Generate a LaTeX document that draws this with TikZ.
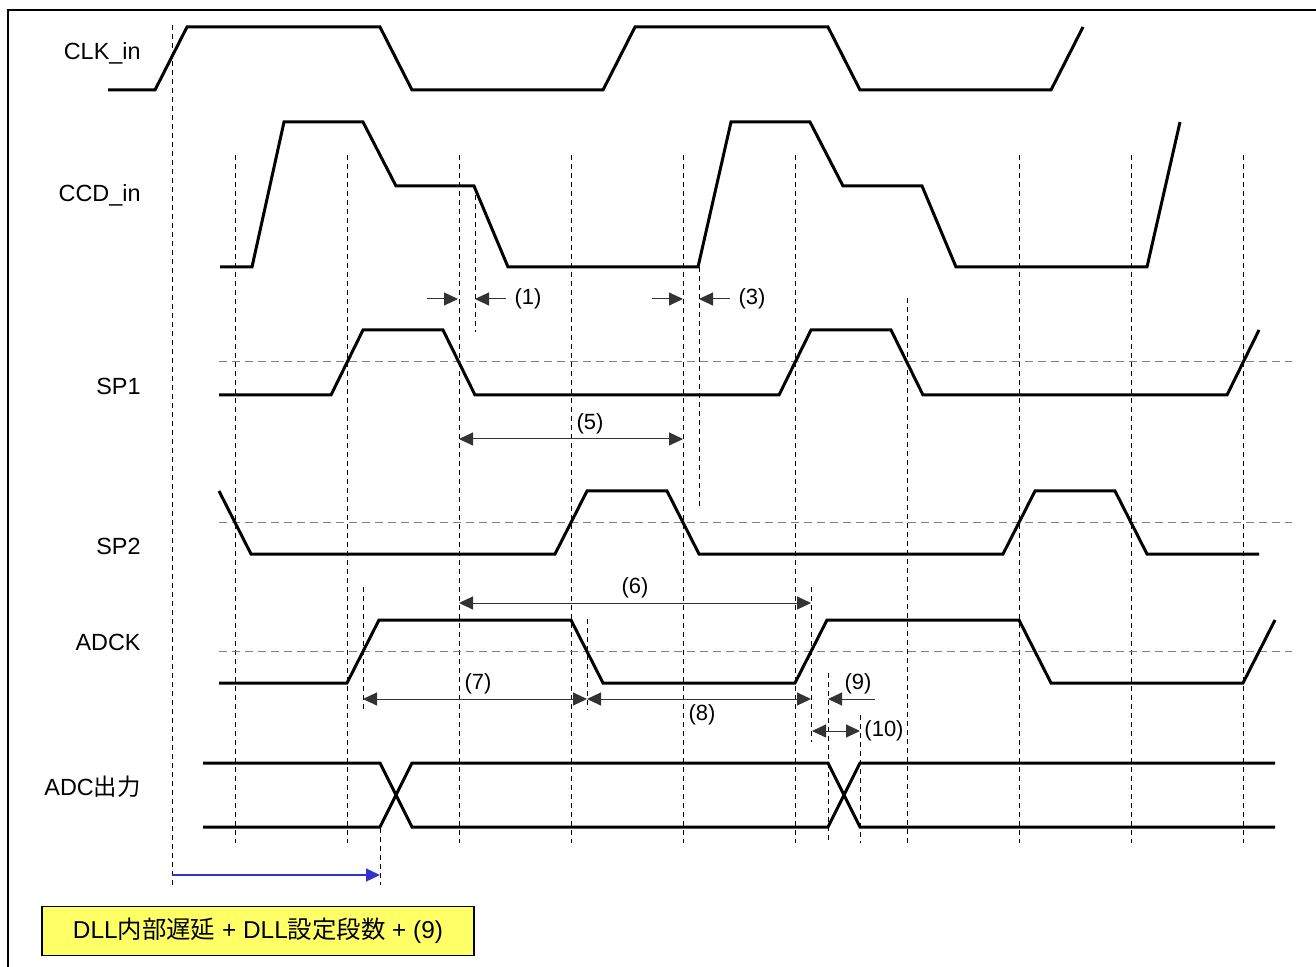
\documentclass[tikz,border=0pt]{standalone}
\usepackage{fontspec}
\setmainfont{Liberation Sans}
\newfontfamily\jpfont{Noto Sans CJK JP}
\usetikzlibrary{arrows.meta}

\definecolor{boxYellow}{RGB}{255,255,102}
\definecolor{dllBlue}{RGB}{51,51,204}
\newcommand{\jtext}[1]{{\jpfont #1}}

\tikzset{
    wave/.style={line width=1.5pt, line join=miter},
    grid/.style={line width=0.5pt, dash pattern=on 2.5pt off 2pt},
    thresh/.style={line width=0.5pt, gray, dash pattern=on 4pt off 2.5pt},
    dim/.style={line width=0.5pt, black!80, -{Triangle[length=7pt,width=6.5pt]}},
    dimboth/.style={line width=0.5pt, black!80,
        {Triangle[length=7pt,width=6.5pt]}-{Triangle[length=7pt,width=6.5pt]}},
    sig/.style={anchor=east, inner sep=0pt, font=\fontsize{11.7}{13}\selectfont},
    num/.style={inner sep=1pt, font=\fontsize{11}{12}\selectfont}
}

\begin{document}
\begin{tikzpicture}[x=0.5pt, y=-0.5pt]
    \useasboundingbox (0,0) rectangle (1316,967);
    \draw[line width=0.75pt] (8,967) -- (8,10) -- (1316,10);

    % time grid
    \draw[grid] (172,25) -- (172,885);
    \foreach \x in {235,347,459,571,683,795,1019,1131,1243}
        \draw[grid] (\x,155) -- (\x,843);
    \draw[grid] (907,298) -- (907,843);

    % short markers
    \draw[grid] (475,186) -- (475,332);
    \draw[grid] (699,267) -- (699,507);
    \draw[grid] (363,587) -- (363,710);
    \draw[grid] (587,619) -- (587,710);
    \draw[grid] (811,587) -- (811,742);
    \draw[grid] (828,673) -- (828,843);
    \draw[grid] (860,715) -- (860,843);
    \draw[grid] (380,828) -- (380,885);

    % thresholds
    \foreach \y in {362,522,651}
        \draw[thresh] (219,\y) -- (1292,\y);

    % signal names
    \node[sig] (clk) at (141,53) {CLK\_in};
    \node[sig] (ccd) at (141,195) {CCD\_in};
    \node[sig] (sp1) at (141,386) {SP1};
    \node[sig] (sp2) at (141,546) {SP2};
    \node[sig] (adck) at (141,642) {ADCK};
    \node[sig] (adcout) at (141,787) {ADC\jtext{出力}};

    % waveforms
    \draw[wave] (108,90) -- (155,90) -- (187,27) -- (380,27) -- (412,90)
        -- (603,90) -- (635,27) -- (828,27) -- (860,90) -- (1051,90) -- (1083,27);
    \draw[wave] (220,267) -- (252,267) -- (284,122) -- (363,122) -- (396,186)
        -- (474,186) -- (508,267) -- (698,267) -- (731,122) -- (810,122)
        -- (843,186) -- (922,186) -- (956,267) -- (1147,267) -- (1180,122);
    \draw[wave] (219,395) -- (331,395) -- (363,330) -- (443,330) -- (475,395)
        -- (779,395) -- (811,330) -- (891,330) -- (923,395) -- (1227,395) -- (1259,330);
    \draw[wave] (219,491) -- (251,554) -- (555,554) -- (587,491) -- (667,491)
        -- (699,554) -- (1003,554) -- (1035,491) -- (1115,491) -- (1147,554) -- (1259,554);
    \draw[wave] (219,683) -- (347,683) -- (379,620) -- (571,620) -- (603,683)
        -- (795,683) -- (827,620) -- (1019,620) -- (1051,683) -- (1243,683) -- (1275,620);
    \draw[wave] (203,763) -- (380,763) -- (412,827) -- (828,827) -- (860,763) -- (1275,763);
    \draw[wave] (203,827) -- (380,827) -- (412,763) -- (828,763) -- (860,827) -- (1275,827);

    % (1) and (3)
    \coordinate (t1a) at (427,299);
    \coordinate (t1b) at (458,299);
    \coordinate (t1c) at (475,299);
    \node[num] (n1) at (528,299) {(1)};
    \path (n1.west) ++(-6,0) coordinate (t1d);
    \draw[dim] (t1a) -- (t1b);
    \draw[dim] (t1d) -- (t1c);

    \coordinate (t3a) at (652,299);
    \coordinate (t3b) at (683,299);
    \coordinate (t3c) at (699,299);
    \node[num] (n3) at (752,299) {(3)};
    \path (n3.west) ++(-6,0) coordinate (t3d);
    \draw[dim] (t3a) -- (t3b);
    \draw[dim] (t3d) -- (t3c);

    % (5) (6)
    \node[num] (n5) at (590,424) {(5)};
    \draw[dimboth] (459,439) coordinate (t5a) -- (683,439) coordinate (t5b);
    \node[num] (n6) at (635,588) {(6)};
    \draw[dimboth] (459,603) coordinate (t6a) -- (811,603) coordinate (t6b);

    % (7) (8)
    \node[num] (n7) at (478,684) {(7)};
    \draw[dimboth] (363,699) coordinate (t7a) -- (587,699) coordinate (t7b);
    \node[num] (n8) at (702,715) {(8)};
    \draw[dimboth] (t7b) -- (811,699) coordinate (t8b);

    % (9) (10)
    \node[num] (n9) at (858,684) {(9)};
    \coordinate (t9a) at (875,699);
    \coordinate (t9b) at (828,699);
    \draw[dim] (t9a) -- (t9b);
    \node[num] (n10) at (884,731) {(10)};
    \draw[dimboth] (812,731) coordinate (t10a) -- (860,731) coordinate (t10b);

    % total delay
    \coordinate (dlla) at (172,875);
    \coordinate (dllb) at (380,875);
    \draw[dllBlue, line width=0.7pt, -{Triangle[length=7pt,width=6.5pt]}] (dlla) -- (dllb);

    \node[draw, line width=0.8pt, fill=boxYellow, minimum width=216pt, minimum height=24.5pt,
        font=\fontsize{12.2}{14}\selectfont] (dll) at (258,931)
        {DLL\jtext{内部遅延} + DLL\jtext{設定段数} + (9)};
\end{tikzpicture}
\end{document}
